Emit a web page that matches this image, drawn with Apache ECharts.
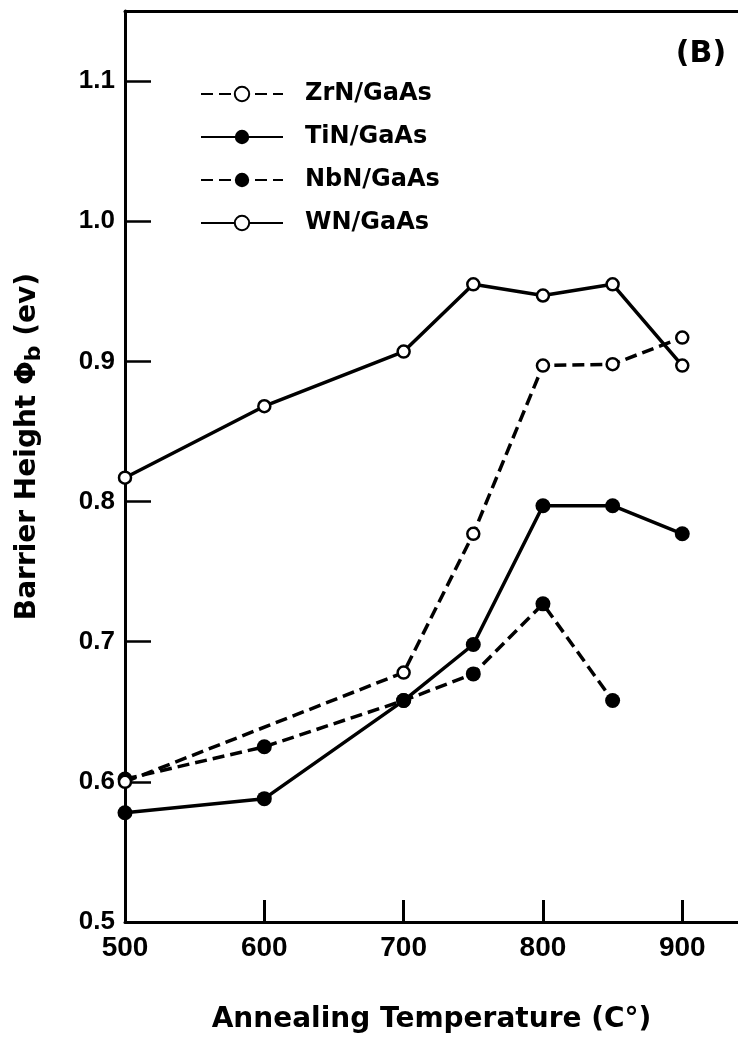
<!DOCTYPE html>
<html>
<head>
<meta charset="utf-8">
<script src="https://cdn.jsdelivr.net/npm/echarts@6/dist/echarts.min.js"></script>
<style>
  html, body { margin: 0; padding: 0; background: #fff; overflow: hidden; }
  #chart { width: 738px; height: 1047px; }
</style>
</head>
<body>
<div id="chart"></div>
<script>
// annealing temperatures (C)
const zrnTemps = [500, 700, 750, 800, 850, 900];
const zrnValues = [0.600, 0.678, 0.777, 0.897, 0.898, 0.917];

const tinTemps = [500, 600, 700, 750, 800, 850, 900];
const tinValues = [0.578, 0.588, 0.658, 0.698, 0.797, 0.797, 0.777];

const nbnTemps = [500, 600, 700, 750, 800, 850];
const nbnValues = [0.602, 0.625, 0.658, 0.677, 0.727, 0.658];

const wnTemps = [500, 600, 700, 750, 800, 850, 900];
const wnValues = [0.817, 0.868, 0.907, 0.955, 0.947, 0.955, 0.897];

const seriesNames = ['ZrN/GaAs', 'TiN/GaAs', 'NbN/GaAs', 'WN/GaAs'];

// tick positions
const xTicks = [500, 600, 700, 800, 900];
const yTicks = [0.5, 0.6, 0.7, 0.8, 0.9, 1.0, 1.1];

const pairs = (xs, ys) => xs.map((x, i) => [x, ys[i]]);

const labelFont = 'Liberation Sans';
const nameFont = 'DejaVu Sans';

// open marker = white fill, filled marker = black
function makeSeries(name, xs, ys, dashed, open, z) {
  return {
    name,
    type: 'line',
    data: pairs(xs, ys),
    clip: false,
    z,
    symbol: 'circle',
    symbolSize: open ? 12 : 15,
    color: '#000',
    lineStyle: { color: '#000', width: 3.5, type: dashed ? [12, 6] : 'solid' },
    itemStyle: open
      ? { color: '#fff', borderColor: '#000', borderWidth: 2.5 }
      : { color: '#000', borderColor: '#000', borderWidth: 0 },
    emphasis: { disabled: true },
  };
}

const chart = echarts.init(document.getElementById('chart'), null, { renderer: 'canvas' });

chart.setOption({
  animation: false,
  backgroundColor: '#fff',
  grid: { left: 125, right: 0, top: 11, bottom: 125 },
  legend: {
    orient: 'vertical',
    left: 195,
    top: 76,
    itemWidth: 82,
    itemHeight: 18,
    itemGap: 17,
    data: seriesNames,
    textStyle: {
      fontFamily: nameFont,
      fontWeight: 'bold',
      fontSize: 24,
      color: '#000',
      lineHeight: 26,
      padding: [0, 0, 0, 17],
    },
  },
  graphic: [{
    type: 'text',
    x: 701,
    y: 54,
    style: {
      text: '(B)',
      align: 'center',
      verticalAlign: 'middle',
      fontFamily: nameFont,
      fontWeight: 'bold',
      fontSize: 30,
      fill: '#000',
    },
  }],
  xAxis: [{
    type: 'value',
    min: 500,
    max: 940,
    interval: 100,
    name: 'Annealing Temperature (C°)',
    nameLocation: 'middle',
    nameGap: 84,
    nameTextStyle: { fontFamily: nameFont, fontWeight: 'bold', fontSize: 28, color: '#000' },
    splitLine: { show: false },
    axisLine: { lineStyle: { color: '#000', width: 3 } },
    axisTick: { inside: true, length: 22, customValues: xTicks, lineStyle: { color: '#000', width: 3 } },
    axisLabel: {
      margin: 12,
      customValues: xTicks,
      fontFamily: labelFont,
      fontWeight: 'bold',
      fontSize: 28,
      color: '#000',
    },
  }, {
    // top frame line only
    type: 'value',
    position: 'top',
    min: 500,
    max: 940,
    axisLine: { lineStyle: { color: '#000', width: 3 } },
    axisTick: { show: false },
    axisLabel: { show: false },
    splitLine: { show: false },
  }],
  yAxis: {
    type: 'value',
    min: 0.5,
    max: 1.15,
    interval: 0.1,
    name: '{t|Barrier Height Φ}{s|b}{t| (ev)}',
    nameLocation: 'middle',
    nameRotate: 90,
    nameGap: 80,
    nameTextStyle: {
      padding: [0, 0, 0, 40],
      rich: {
        t: { fontFamily: nameFont, fontWeight: 'bold', fontSize: 28, lineHeight: 34, color: '#000' },
        s: { fontFamily: nameFont, fontWeight: 'bold', fontSize: 22, lineHeight: 22, verticalAlign: 'bottom', color: '#000' },
      },
    },
    splitLine: { show: false },
    axisLine: { show: true, lineStyle: { color: '#000', width: 3 } },
    axisTick: { show: true, inside: true, length: 26, customValues: yTicks, lineStyle: { color: '#000', width: 2.5 } },
    axisLabel: {
      margin: 10,
      customValues: yTicks,
      fontFamily: labelFont,
      fontWeight: 'bold',
      fontSize: 26,
      color: '#000',
      formatter: (v) => v.toFixed(1),
    },
  },
  series: [
    makeSeries('NbN/GaAs', nbnTemps, nbnValues, true, false, 2),
    makeSeries('TiN/GaAs', tinTemps, tinValues, false, false, 2),
    makeSeries('ZrN/GaAs', zrnTemps, zrnValues, true, true, 3),
    makeSeries('WN/GaAs', wnTemps, wnValues, false, true, 3),
  ],
});
</script>
</body>
</html>
